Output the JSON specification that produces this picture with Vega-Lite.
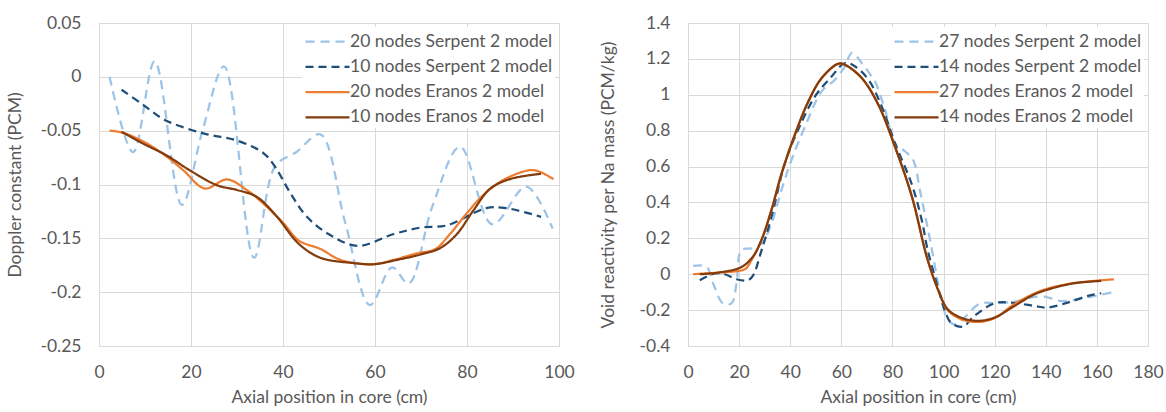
{
  "$schema": "https://vega.github.io/schema/vega-lite/v6.json",
  "background": "white",
  "padding": {"left": 6, "top": 14, "right": 5, "bottom": 5},
  "spacing": 24,
  "config": {
    "font": "Lato",
    "view": {"stroke": null},
    "axis": {
      "gridColor": "#D9D9D9", "gridWidth": 1, "domainColor": "#D9D9D9", "ticks": false,
      "labelColor": "#595959", "titleColor": "#595959", "labelFontSize": 17.5, "titleFontSize": 17.5,
      "titleFontWeight": "normal", "labelPadding": 18, "labelFont": "Lato", "titleFont": "Lato"
    },
    "axisX": {"labelPadding": 17, "titlePadding": 8, "labelFlush": false},
    "legend": {
      "orient": "top-right", "offset": 4, "title": null, "symbolType": "M-2,0H2", "symbolSize": 484,
      "symbolOffset": 11, "symbolStrokeWidth": 2.25, "labelFontSize": 17.5, "labelColor": "#595959", "labelOffset": 10,
      "rowPadding": 4.3, "fillColor": "white", "padding": 2, "labelLimit": 400, "labelFont": "Lato"
    }
  },
  "datasets": {
    "doppler": [
      {"s": "20 nodes Serpent 2 model", "x": 2.3, "y": 0},
      {"s": "20 nodes Serpent 2 model", "x": 7.4, "y": -0.07},
      {"s": "20 nodes Serpent 2 model", "x": 12.1, "y": 0.0145},
      {"s": "20 nodes Serpent 2 model", "x": 18.0, "y": -0.119},
      {"s": "20 nodes Serpent 2 model", "x": 22.5, "y": -0.05},
      {"s": "20 nodes Serpent 2 model", "x": 27.2, "y": 0.0096},
      {"s": "20 nodes Serpent 2 model", "x": 33.7, "y": -0.168},
      {"s": "20 nodes Serpent 2 model", "x": 38.3, "y": -0.083},
      {"s": "20 nodes Serpent 2 model", "x": 43.0, "y": -0.0696},
      {"s": "20 nodes Serpent 2 model", "x": 48.1, "y": -0.0534},
      {"s": "20 nodes Serpent 2 model", "x": 53.5, "y": -0.135},
      {"s": "20 nodes Serpent 2 model", "x": 58.9, "y": -0.212},
      {"s": "20 nodes Serpent 2 model", "x": 63.7, "y": -0.177},
      {"s": "20 nodes Serpent 2 model", "x": 67.3, "y": -0.192},
      {"s": "20 nodes Serpent 2 model", "x": 72.5, "y": -0.12},
      {"s": "20 nodes Serpent 2 model", "x": 78.5, "y": -0.065},
      {"s": "20 nodes Serpent 2 model", "x": 85.5, "y": -0.137},
      {"s": "20 nodes Serpent 2 model", "x": 92.9, "y": -0.102},
      {"s": "20 nodes Serpent 2 model", "x": 98.6, "y": -0.141},

      {"s": "10 nodes Serpent 2 model", "x": 4.9, "y": -0.012},
      {"s": "10 nodes Serpent 2 model", "x": 9.6, "y": -0.026},
      {"s": "10 nodes Serpent 2 model", "x": 14.3, "y": -0.04},
      {"s": "10 nodes Serpent 2 model", "x": 22.7, "y": -0.0525},
      {"s": "10 nodes Serpent 2 model", "x": 29.9, "y": -0.059},
      {"s": "10 nodes Serpent 2 model", "x": 35.8, "y": -0.071},
      {"s": "10 nodes Serpent 2 model", "x": 38.5, "y": -0.085},
      {"s": "10 nodes Serpent 2 model", "x": 41.6, "y": -0.108},
      {"s": "10 nodes Serpent 2 model", "x": 45.2, "y": -0.13},
      {"s": "10 nodes Serpent 2 model", "x": 49.9, "y": -0.146},
      {"s": "10 nodes Serpent 2 model", "x": 56.2, "y": -0.157},
      {"s": "10 nodes Serpent 2 model", "x": 64.1, "y": -0.146},
      {"s": "10 nodes Serpent 2 model", "x": 69.9, "y": -0.14},
      {"s": "10 nodes Serpent 2 model", "x": 75.6, "y": -0.138},
      {"s": "10 nodes Serpent 2 model", "x": 84.2, "y": -0.122},
      {"s": "10 nodes Serpent 2 model", "x": 88.6, "y": -0.122},
      {"s": "10 nodes Serpent 2 model", "x": 96.1, "y": -0.13},

      {"s": "20 nodes Eranos 2 model", "x": 2.3, "y": -0.05},
      {"s": "20 nodes Eranos 2 model", "x": 4.9, "y": -0.0516},
      {"s": "20 nodes Eranos 2 model", "x": 9.6, "y": -0.06},
      {"s": "20 nodes Eranos 2 model", "x": 14.7, "y": -0.074},
      {"s": "20 nodes Eranos 2 model", "x": 18.3, "y": -0.0867},
      {"s": "20 nodes Eranos 2 model", "x": 23.0, "y": -0.1037},
      {"s": "20 nodes Eranos 2 model", "x": 27.8, "y": -0.0953},
      {"s": "20 nodes Eranos 2 model", "x": 32.1, "y": -0.105},
      {"s": "20 nodes Eranos 2 model", "x": 35.8, "y": -0.118},
      {"s": "20 nodes Eranos 2 model", "x": 40.1, "y": -0.136},
      {"s": "20 nodes Eranos 2 model", "x": 43.4, "y": -0.152},
      {"s": "20 nodes Eranos 2 model", "x": 48.2, "y": -0.16},
      {"s": "20 nodes Eranos 2 model", "x": 51.9, "y": -0.169},
      {"s": "20 nodes Eranos 2 model", "x": 55.5, "y": -0.173},
      {"s": "20 nodes Eranos 2 model", "x": 59.8, "y": -0.174},
      {"s": "20 nodes Eranos 2 model", "x": 64.1, "y": -0.17},
      {"s": "20 nodes Eranos 2 model", "x": 69.1, "y": -0.164},
      {"s": "20 nodes Eranos 2 model", "x": 73.1, "y": -0.16},
      {"s": "20 nodes Eranos 2 model", "x": 76.3, "y": -0.146},
      {"s": "20 nodes Eranos 2 model", "x": 79.9, "y": -0.127},
      {"s": "20 nodes Eranos 2 model", "x": 83.5, "y": -0.11},
      {"s": "20 nodes Eranos 2 model", "x": 87.8, "y": -0.096},
      {"s": "20 nodes Eranos 2 model", "x": 93.6, "y": -0.0867},
      {"s": "20 nodes Eranos 2 model", "x": 95.7, "y": -0.088},
      {"s": "20 nodes Eranos 2 model", "x": 98.8, "y": -0.095},

      {"s": "10 nodes Eranos 2 model", "x": 4.9, "y": -0.051},
      {"s": "10 nodes Eranos 2 model", "x": 9.6, "y": -0.062},
      {"s": "10 nodes Eranos 2 model", "x": 14.7, "y": -0.073},
      {"s": "10 nodes Eranos 2 model", "x": 19.8, "y": -0.087},
      {"s": "10 nodes Eranos 2 model", "x": 25.6, "y": -0.1006},
      {"s": "10 nodes Eranos 2 model", "x": 29.9, "y": -0.105},
      {"s": "10 nodes Eranos 2 model", "x": 34.3, "y": -0.1115},
      {"s": "10 nodes Eranos 2 model", "x": 38.7, "y": -0.13},
      {"s": "10 nodes Eranos 2 model", "x": 43.4, "y": -0.155},
      {"s": "10 nodes Eranos 2 model", "x": 48.1, "y": -0.168},
      {"s": "10 nodes Eranos 2 model", "x": 55.5, "y": -0.173},
      {"s": "10 nodes Eranos 2 model", "x": 59.8, "y": -0.174},
      {"s": "10 nodes Eranos 2 model", "x": 64.8, "y": -0.17},
      {"s": "10 nodes Eranos 2 model", "x": 69.9, "y": -0.165},
      {"s": "10 nodes Eranos 2 model", "x": 74.2, "y": -0.159},
      {"s": "10 nodes Eranos 2 model", "x": 77.8, "y": -0.146},
      {"s": "10 nodes Eranos 2 model", "x": 81.4, "y": -0.124},
      {"s": "10 nodes Eranos 2 model", "x": 85.0, "y": -0.104},
      {"s": "10 nodes Eranos 2 model", "x": 89.3, "y": -0.095},
      {"s": "10 nodes Eranos 2 model", "x": 96.1, "y": -0.09}
    ],
    "void": [
      {"s": "27 nodes Serpent 2 model", "x": 2.0, "y": 0.046},
      {"s": "27 nodes Serpent 2 model", "x": 7.2, "y": 0.042},
      {"s": "27 nodes Serpent 2 model", "x": 9.8, "y": -0.05},
      {"s": "27 nodes Serpent 2 model", "x": 13.7, "y": -0.163},
      {"s": "27 nodes Serpent 2 model", "x": 17.0, "y": -0.163},
      {"s": "27 nodes Serpent 2 model", "x": 19.0, "y": -0.05},
      {"s": "27 nodes Serpent 2 model", "x": 20.9, "y": 0.135},
      {"s": "27 nodes Serpent 2 model", "x": 24.8, "y": 0.144},
      {"s": "27 nodes Serpent 2 model", "x": 28.8, "y": 0.172},
      {"s": "27 nodes Serpent 2 model", "x": 32.7, "y": 0.284},
      {"s": "27 nodes Serpent 2 model", "x": 36.6, "y": 0.47},
      {"s": "27 nodes Serpent 2 model", "x": 40.5, "y": 0.637},
      {"s": "27 nodes Serpent 2 model", "x": 45.8, "y": 0.823},
      {"s": "27 nodes Serpent 2 model", "x": 52.3, "y": 1.019},
      {"s": "27 nodes Serpent 2 model", "x": 57.5, "y": 1.084},
      {"s": "27 nodes Serpent 2 model", "x": 61.4, "y": 1.158},
      {"s": "27 nodes Serpent 2 model", "x": 64.1, "y": 1.233},
      {"s": "27 nodes Serpent 2 model", "x": 68.0, "y": 1.177},
      {"s": "27 nodes Serpent 2 model", "x": 71.9, "y": 1.102},
      {"s": "27 nodes Serpent 2 model", "x": 73.2, "y": 1.074},
      {"s": "27 nodes Serpent 2 model", "x": 77.1, "y": 0.916},
      {"s": "27 nodes Serpent 2 model", "x": 81.0, "y": 0.73},
      {"s": "27 nodes Serpent 2 model", "x": 85.0, "y": 0.684},
      {"s": "27 nodes Serpent 2 model", "x": 88.0, "y": 0.64},
      {"s": "27 nodes Serpent 2 model", "x": 91.0, "y": 0.45},
      {"s": "27 nodes Serpent 2 model", "x": 95.0, "y": 0.17},
      {"s": "27 nodes Serpent 2 model", "x": 99.0, "y": -0.13},
      {"s": "27 nodes Serpent 2 model", "x": 101.6, "y": -0.25},
      {"s": "27 nodes Serpent 2 model", "x": 104.2, "y": -0.279},
      {"s": "27 nodes Serpent 2 model", "x": 108.1, "y": -0.242},
      {"s": "27 nodes Serpent 2 model", "x": 114.0, "y": -0.165},
      {"s": "27 nodes Serpent 2 model", "x": 120.0, "y": -0.16},
      {"s": "27 nodes Serpent 2 model", "x": 127.0, "y": -0.155},
      {"s": "27 nodes Serpent 2 model", "x": 134.0, "y": -0.13},
      {"s": "27 nodes Serpent 2 model", "x": 139.5, "y": -0.125},
      {"s": "27 nodes Serpent 2 model", "x": 146.0, "y": -0.15},
      {"s": "27 nodes Serpent 2 model", "x": 154.0, "y": -0.135},
      {"s": "27 nodes Serpent 2 model", "x": 166.9, "y": -0.099},

      {"s": "14 nodes Serpent 2 model", "x": 4.6, "y": -0.033},
      {"s": "14 nodes Serpent 2 model", "x": 10.5, "y": 0.004},
      {"s": "14 nodes Serpent 2 model", "x": 14.4, "y": 0.0},
      {"s": "14 nodes Serpent 2 model", "x": 19.0, "y": -0.028},
      {"s": "14 nodes Serpent 2 model", "x": 23.5, "y": -0.033},
      {"s": "14 nodes Serpent 2 model", "x": 25.5, "y": -0.006},
      {"s": "14 nodes Serpent 2 model", "x": 28.8, "y": 0.134},
      {"s": "14 nodes Serpent 2 model", "x": 32.7, "y": 0.32},
      {"s": "14 nodes Serpent 2 model", "x": 37.9, "y": 0.619},
      {"s": "14 nodes Serpent 2 model", "x": 43.1, "y": 0.805},
      {"s": "14 nodes Serpent 2 model", "x": 49.7, "y": 0.991},
      {"s": "14 nodes Serpent 2 model", "x": 56.2, "y": 1.102},
      {"s": "14 nodes Serpent 2 model", "x": 61.4, "y": 1.177},
      {"s": "14 nodes Serpent 2 model", "x": 65.4, "y": 1.158},
      {"s": "14 nodes Serpent 2 model", "x": 70.6, "y": 1.084},
      {"s": "14 nodes Serpent 2 model", "x": 75.8, "y": 0.935},
      {"s": "14 nodes Serpent 2 model", "x": 81.0, "y": 0.73},
      {"s": "14 nodes Serpent 2 model", "x": 87.6, "y": 0.5},
      {"s": "14 nodes Serpent 2 model", "x": 91.5, "y": 0.3},
      {"s": "14 nodes Serpent 2 model", "x": 93.7, "y": 0.14},
      {"s": "14 nodes Serpent 2 model", "x": 97.6, "y": -0.065},
      {"s": "14 nodes Serpent 2 model", "x": 100.3, "y": -0.195},
      {"s": "14 nodes Serpent 2 model", "x": 102.9, "y": -0.27},
      {"s": "14 nodes Serpent 2 model", "x": 107.5, "y": -0.292},
      {"s": "14 nodes Serpent 2 model", "x": 112.0, "y": -0.233},
      {"s": "14 nodes Serpent 2 model", "x": 119.9, "y": -0.162},
      {"s": "14 nodes Serpent 2 model", "x": 126.4, "y": -0.158},
      {"s": "14 nodes Serpent 2 model", "x": 135.6, "y": -0.177},
      {"s": "14 nodes Serpent 2 model", "x": 140.8, "y": -0.186},
      {"s": "14 nodes Serpent 2 model", "x": 148.6, "y": -0.158},
      {"s": "14 nodes Serpent 2 model", "x": 156.5, "y": -0.121},
      {"s": "14 nodes Serpent 2 model", "x": 161.7, "y": -0.106},

      {"s": "27 nodes Eranos 2 model", "x": 2.0, "y": 0.0},
      {"s": "27 nodes Eranos 2 model", "x": 11.8, "y": 0.009},
      {"s": "27 nodes Eranos 2 model", "x": 19.6, "y": 0.018},
      {"s": "27 nodes Eranos 2 model", "x": 22.5, "y": 0.03},
      {"s": "27 nodes Eranos 2 model", "x": 24.8, "y": 0.078},
      {"s": "27 nodes Eranos 2 model", "x": 28.8, "y": 0.193},
      {"s": "27 nodes Eranos 2 model", "x": 32.7, "y": 0.36},
      {"s": "27 nodes Eranos 2 model", "x": 36.6, "y": 0.56},
      {"s": "27 nodes Eranos 2 model", "x": 41.8, "y": 0.777},
      {"s": "27 nodes Eranos 2 model", "x": 47.1, "y": 0.963},
      {"s": "27 nodes Eranos 2 model", "x": 52.3, "y": 1.093},
      {"s": "27 nodes Eranos 2 model", "x": 58.8, "y": 1.173},
      {"s": "27 nodes Eranos 2 model", "x": 61.4, "y": 1.167},
      {"s": "27 nodes Eranos 2 model", "x": 68.0, "y": 1.093},
      {"s": "27 nodes Eranos 2 model", "x": 74.5, "y": 0.944},
      {"s": "27 nodes Eranos 2 model", "x": 81.0, "y": 0.71},
      {"s": "27 nodes Eranos 2 model", "x": 87.6, "y": 0.433},
      {"s": "27 nodes Eranos 2 model", "x": 93.7, "y": 0.084},
      {"s": "27 nodes Eranos 2 model", "x": 98.3, "y": -0.102},
      {"s": "27 nodes Eranos 2 model", "x": 101.6, "y": -0.2},
      {"s": "27 nodes Eranos 2 model", "x": 106.8, "y": -0.25},
      {"s": "27 nodes Eranos 2 model", "x": 113.3, "y": -0.266},
      {"s": "27 nodes Eranos 2 model", "x": 119.9, "y": -0.245},
      {"s": "27 nodes Eranos 2 model", "x": 127.7, "y": -0.167},
      {"s": "27 nodes Eranos 2 model", "x": 138.0, "y": -0.093},
      {"s": "27 nodes Eranos 2 model", "x": 148.6, "y": -0.055},
      {"s": "27 nodes Eranos 2 model", "x": 157.0, "y": -0.04},
      {"s": "27 nodes Eranos 2 model", "x": 166.7, "y": -0.028},

      {"s": "14 nodes Eranos 2 model", "x": 4.6, "y": 0.0},
      {"s": "14 nodes Eranos 2 model", "x": 11.8, "y": 0.009},
      {"s": "14 nodes Eranos 2 model", "x": 20.9, "y": 0.04},
      {"s": "14 nodes Eranos 2 model", "x": 25.5, "y": 0.1},
      {"s": "14 nodes Eranos 2 model", "x": 28.8, "y": 0.193},
      {"s": "14 nodes Eranos 2 model", "x": 32.7, "y": 0.36},
      {"s": "14 nodes Eranos 2 model", "x": 36.6, "y": 0.56},
      {"s": "14 nodes Eranos 2 model", "x": 41.8, "y": 0.777},
      {"s": "14 nodes Eranos 2 model", "x": 47.1, "y": 0.963},
      {"s": "14 nodes Eranos 2 model", "x": 52.3, "y": 1.093},
      {"s": "14 nodes Eranos 2 model", "x": 58.8, "y": 1.173},
      {"s": "14 nodes Eranos 2 model", "x": 61.4, "y": 1.167},
      {"s": "14 nodes Eranos 2 model", "x": 68.0, "y": 1.093},
      {"s": "14 nodes Eranos 2 model", "x": 74.5, "y": 0.944},
      {"s": "14 nodes Eranos 2 model", "x": 81.0, "y": 0.71},
      {"s": "14 nodes Eranos 2 model", "x": 87.6, "y": 0.433},
      {"s": "14 nodes Eranos 2 model", "x": 93.7, "y": 0.084},
      {"s": "14 nodes Eranos 2 model", "x": 98.3, "y": -0.102},
      {"s": "14 nodes Eranos 2 model", "x": 101.6, "y": -0.195},
      {"s": "14 nodes Eranos 2 model", "x": 106.8, "y": -0.242},
      {"s": "14 nodes Eranos 2 model", "x": 113.3, "y": -0.26},
      {"s": "14 nodes Eranos 2 model", "x": 119.9, "y": -0.242},
      {"s": "14 nodes Eranos 2 model", "x": 127.7, "y": -0.177},
      {"s": "14 nodes Eranos 2 model", "x": 135.6, "y": -0.112},
      {"s": "14 nodes Eranos 2 model", "x": 142.1, "y": -0.08},
      {"s": "14 nodes Eranos 2 model", "x": 151.2, "y": -0.05},
      {"s": "14 nodes Eranos 2 model", "x": 161.7, "y": -0.037}
    ]
  },
  "hconcat": [
    {
      "width": 460,
      "height": 323,
      "data": {"name": "doppler"},
      "mark": {"type": "line", "interpolate": "catmull-rom", "strokeWidth": 2.25},
      "encoding": {
        "x": {"field": "x", "type": "quantitative", "scale": {"domain": [0, 100], "nice": false},
              "axis": {"title": "Axial position in core (cm)", "values": [0, 20, 40, 60, 80, 100], "labelExpr": "'' + datum.value"}},
        "y": {"field": "y", "type": "quantitative", "scale": {"domain": [-0.25, 0.05], "nice": false},
              "axis": {"title": "Doppler constant (PCM)", "values": [-0.25, -0.2, -0.15, -0.1, -0.05, 0, 0.05], "labelExpr": "'' + datum.value", "titlePadding": 15}},
        "color": {"field": "s", "type": "nominal", "sort": null,
                  "scale": {"domain": ["20 nodes Serpent 2 model", "10 nodes Serpent 2 model", "20 nodes Eranos 2 model", "10 nodes Eranos 2 model"],
                            "range": ["#9DC3E6", "#1F4E79", "#ED7D31", "#843C0C"]}},
        "strokeDash": {"field": "s", "type": "nominal", "sort": null,
                  "scale": {"domain": ["20 nodes Serpent 2 model", "10 nodes Serpent 2 model", "20 nodes Eranos 2 model", "10 nodes Eranos 2 model"],
                            "range": [[9, 6], [8, 5], [1, 0], [1, 0]]}}
      }
    },
    {
      "width": 460,
      "height": 323,
      "data": {"name": "void"},
      "mark": {"type": "line", "interpolate": "catmull-rom", "strokeWidth": 2.25},
      "encoding": {
        "x": {"field": "x", "type": "quantitative", "scale": {"domain": [0, 180], "nice": false},
              "axis": {"title": "Axial position in core (cm)", "values": [0, 20, 40, 60, 80, 100, 120, 140, 160, 180], "labelExpr": "'' + datum.value"}},
        "y": {"field": "y", "type": "quantitative", "scale": {"domain": [-0.4, 1.4], "nice": false},
              "axis": {"title": "Void reactivity per Na mass (PCM/kg)", "values": [-0.4, -0.2, 0, 0.2, 0.4, 0.6, 0.8, 1, 1.2, 1.4], "labelExpr": "'' + datum.value", "titlePadding": 22}},
        "color": {"field": "s", "type": "nominal", "sort": null,
                  "scale": {"domain": ["27 nodes Serpent 2 model", "14 nodes Serpent 2 model", "27 nodes Eranos 2 model", "14 nodes Eranos 2 model"],
                            "range": ["#9DC3E6", "#1F4E79", "#ED7D31", "#843C0C"]}},
        "strokeDash": {"field": "s", "type": "nominal", "sort": null,
                  "scale": {"domain": ["27 nodes Serpent 2 model", "14 nodes Serpent 2 model", "27 nodes Eranos 2 model", "14 nodes Eranos 2 model"],
                            "range": [[9, 6], [8, 5], [1, 0], [1, 0]]}}
      }
    }
  ],
  "resolve": {"scale": {"color": "independent", "strokeDash": "independent"}, "legend": {"color": "independent", "strokeDash": "independent"}}
}
